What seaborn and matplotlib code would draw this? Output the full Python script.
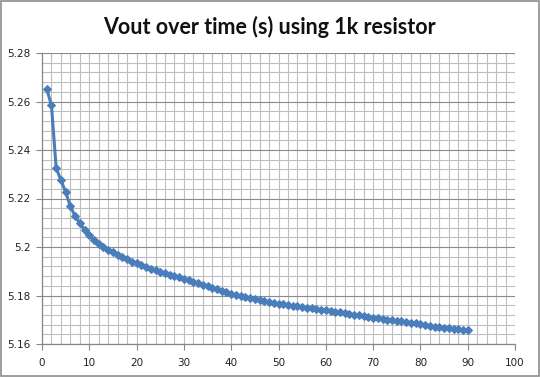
import matplotlib
matplotlib.use("Agg")
import matplotlib.pyplot as plt
import seaborn as sns
import pandas as pd
from matplotlib.ticker import MultipleLocator
from matplotlib.patches import Rectangle

time_s = list(range(1, 91))
vout = [
    5.2652, 5.2584, 5.2325, 5.2276, 5.2226, 5.2168, 5.2127, 5.2098, 5.2072, 5.2050,
    5.2030, 5.2014, 5.2001, 5.1989, 5.1978, 5.1968, 5.1958, 5.1949, 5.1940, 5.1932,
    5.1925, 5.1918, 5.1911, 5.1904, 5.1898, 5.1892, 5.1886, 5.1880, 5.1875, 5.1869,
    5.1862, 5.1856, 5.1850, 5.1844, 5.1838, 5.1832, 5.1826, 5.1820, 5.1814, 5.1808,
    5.1802, 5.1797, 5.1792, 5.1788, 5.1784, 5.1780, 5.1776, 5.1772, 5.1769, 5.1766,
    5.1763, 5.1760, 5.1758, 5.1756, 5.1753, 5.1750, 5.1748, 5.1745, 5.1742, 5.1739,
    5.1736, 5.1733, 5.1730, 5.1727, 5.1724, 5.1721, 5.1718, 5.1715, 5.1712, 5.1709,
    5.1706, 5.1703, 5.1700, 5.1698, 5.1696, 5.1694, 5.1691, 5.1688, 5.1686, 5.1683,
    5.1679, 5.1675, 5.1672, 5.1669, 5.1667, 5.1665, 5.1663, 5.1661, 5.1659, 5.1656,
]
x_ticks = [0, 10, 20, 30, 40, 50, 60, 70, 80, 90, 100]
y_ticks = [5.16, 5.18, 5.20, 5.22, 5.24, 5.26, 5.28]
y_tick_labels = ["5.16", "5.18", "5.2", "5.22", "5.24", "5.26", "5.28"]
title = "Vout over time (s) using 1k resistor"

df = pd.DataFrame({"time": time_s, "vout": vout})

sns.set_style("white")
plt.rcParams["font.family"] = ["DejaVu Sans"]

fig = plt.figure(figsize=(5.4, 3.77), dpi=100)
ax = fig.add_axes([42/540, 1-344/377, (515-42)/540, (344-53)/377])

sns.lineplot(data=df, x="time", y="vout", ax=ax, color="#4A7EBB", linewidth=2.2,
             marker="D", markersize=4.5, markeredgecolor="#4A7EBB", zorder=3)

ax.set_xlim(0, 100)
ax.set_ylim(5.16, 5.28)
ax.set_xticks(x_ticks)
ax.set_yticks(y_ticks)
ax.set_yticklabels(y_tick_labels)
ax.xaxis.set_minor_locator(MultipleLocator(2))
ax.yaxis.set_minor_locator(MultipleLocator(0.004))

ax.grid(which="minor", axis="both", color="#BEBEBE", linewidth=0.8)
ax.grid(which="major", axis="x", color="#BEBEBE", linewidth=0.8)
ax.grid(which="major", axis="y", color="#8A8A8A", linewidth=0.8)
ax.set_axisbelow(True)

for s in ["top", "right"]:
    ax.spines[s].set_visible(False)
for s in ["left", "bottom"]:
    ax.spines[s].set_color("#868686")
    ax.spines[s].set_linewidth(0.9)

ax.tick_params(axis="both", which="major", direction="out", length=4, width=0.8,
               color="#868686", labelsize=7.5, labelcolor="#222222", left=True, bottom=True)
ax.tick_params(axis="both", which="minor", length=0)
ax.tick_params(axis="x", pad=6)
ax.tick_params(axis="y", pad=4)

ax.set_xlabel("")
ax.set_ylabel("")

fig.text(269/540, 1-27/377, title, ha="center", va="center", fontsize=15.5,
         fontweight="bold", family=["Lato", "DejaVu Sans"], color="#111111")

fig.patches.append(Rectangle((0.002, 0.003), 0.996, 0.994, transform=fig.transFigure,
                             fill=False, edgecolor="#8C8C8C", linewidth=1.2))

fig.savefig("out.png", dpi=100)
